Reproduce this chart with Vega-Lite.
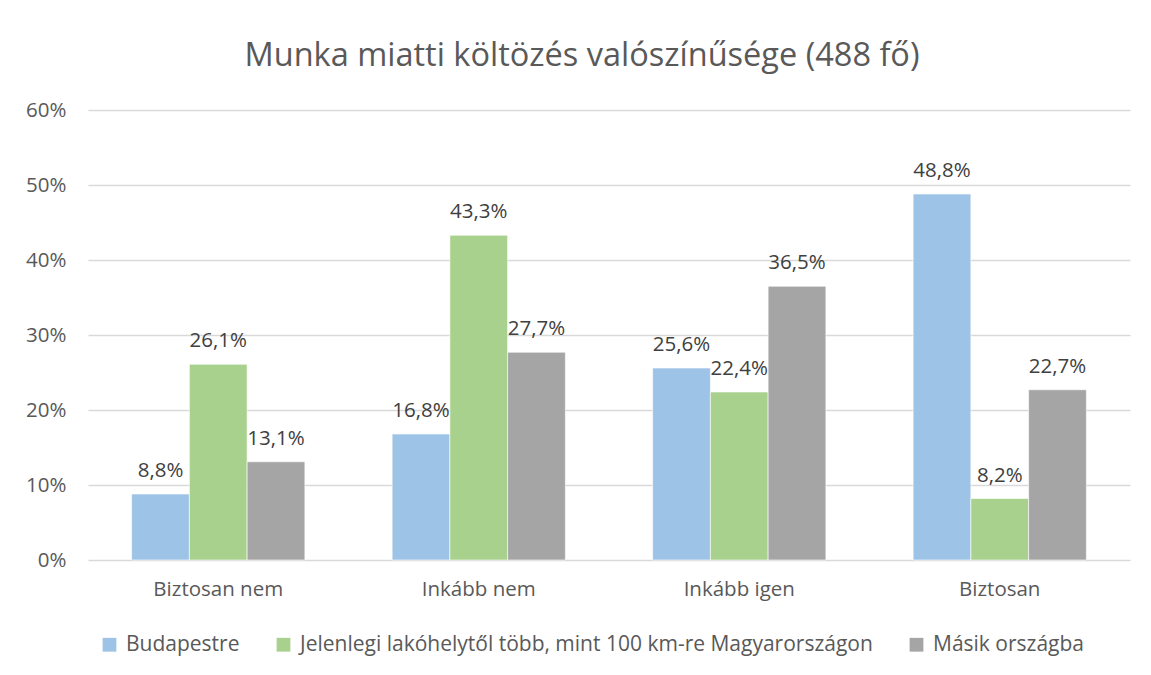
{
  "$schema": "https://vega.github.io/schema/vega-lite/v6.json",
  "width": 1042,
  "height": 450,
  "autosize": {"type": "none"},
  "padding": {"left": 88, "top": 110, "right": 21, "bottom": 115},
  "background": "white",
  "config": {
    "locale": {"number": {"decimal": ",", "thousands": " ", "grouping": [3], "currency": ["", " Ft"]}},
    "view": {"stroke": null},
    "font": "Open Sans"
  },
  "title": {
    "text": "Munka miatti költözés valószínűsége (488 fő)",
    "fontSize": 32.5,
    "font": "Open Sans",
    "fontWeight": "normal",
    "color": "#595959",
    "anchor": "middle",
    "dx": -27,
    "offset": 28
  },
  "data": {
    "values": [
      {"kat": "Biztosan nem", "sorozat": "Budapestre", "ertek": 0.088},
      {"kat": "Biztosan nem", "sorozat": "Jelenlegi lakóhelytől több, mint 100 km-re Magyarországon", "ertek": 0.261},
      {"kat": "Biztosan nem", "sorozat": "Másik országba", "ertek": 0.131},
      {"kat": "Inkább nem", "sorozat": "Budapestre", "ertek": 0.168},
      {"kat": "Inkább nem", "sorozat": "Jelenlegi lakóhelytől több, mint 100 km-re Magyarországon", "ertek": 0.433},
      {"kat": "Inkább nem", "sorozat": "Másik országba", "ertek": 0.277},
      {"kat": "Inkább igen", "sorozat": "Budapestre", "ertek": 0.256},
      {"kat": "Inkább igen", "sorozat": "Jelenlegi lakóhelytől több, mint 100 km-re Magyarországon", "ertek": 0.224},
      {"kat": "Inkább igen", "sorozat": "Másik országba", "ertek": 0.365},
      {"kat": "Biztosan", "sorozat": "Budapestre", "ertek": 0.488},
      {"kat": "Biztosan", "sorozat": "Jelenlegi lakóhelytől több, mint 100 km-re Magyarországon", "ertek": 0.082},
      {"kat": "Biztosan", "sorozat": "Másik országba", "ertek": 0.227}
    ]
  },
  "encoding": {
    "x": {
      "field": "kat",
      "type": "nominal",
      "sort": ["Biztosan nem", "Inkább nem", "Inkább igen", "Biztosan"],
      "scale": {"paddingInner": 0.335, "paddingOuter": 0.1675},
      "axis": {"title": null, "labelAngle": 0, "domain": false, "ticks": false, "labelFontSize": 20.5, "labelColor": "#595959", "labelPadding": 19}
    },
    "xOffset": {
      "field": "sorozat",
      "type": "nominal",
      "sort": ["Budapestre", "Jelenlegi lakóhelytől több, mint 100 km-re Magyarországon", "Másik országba"],
      "scale": {"paddingInner": 0, "paddingOuter": 0}
    },
    "y": {
      "field": "ertek",
      "type": "quantitative",
      "scale": {"domain": [0, 0.6]},
      "axis": {"title": null, "format": ".0%", "values": [0, 0.1, 0.2, 0.3, 0.4, 0.5, 0.6], "domain": false, "ticks": false, "gridColor": "#D9D9D9", "gridWidth": 1.3, "labelFontSize": 20.5, "labelColor": "#595959", "labelPadding": 22}
    }
  },
  "layer": [
    {
      "mark": {"type": "bar", "stroke": "white", "strokeWidth": 0.6},
      "encoding": {
        "color": {
          "field": "sorozat",
          "type": "nominal",
          "sort": ["Budapestre", "Jelenlegi lakóhelytől több, mint 100 km-re Magyarországon", "Másik országba"],
          "scale": {"domain": ["Budapestre", "Jelenlegi lakóhelytől több, mint 100 km-re Magyarországon", "Másik országba"], "range": ["#9DC3E6", "#A9D18E", "#A5A5A5"]},
          "legend": {
            "title": null,
            "orient": "none",
            "legendX": 11,
            "legendY": 524,
            "direction": "horizontal",
            "symbolType": "square",
            "symbolSize": 190,
            "symbolStrokeWidth": 0,
            "labelFontSize": 21,
            "labelColor": "#595959",
            "labelLimit": 0,
            "labelOffset": 6,
            "columnPadding": 33
          }
        }
      }
    },
    {
      "mark": {"type": "text", "baseline": "alphabetic", "dy": -17, "fontSize": 20.5, "color": "#404040"},
      "encoding": {
        "text": {"field": "ertek", "type": "quantitative", "format": ".1%"}
      }
    }
  ]
}
